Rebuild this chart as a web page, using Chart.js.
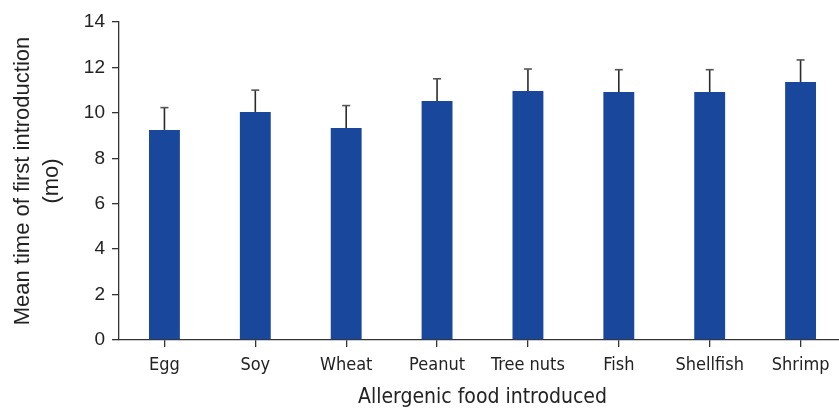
<!DOCTYPE html>
<html>
<head>
<meta charset="utf-8">
<script src="https://cdn.jsdelivr.net/npm/chart.js@4.4.1/dist/chart.umd.min.js"></script>
<style>
  html, body { margin: 0; padding: 0; background: #fff; overflow: hidden; }
  #wrap { width: 839px; height: 410px; position: relative; overflow: hidden; }
  #chart { display: block; }
</style>
</head>
<body>
<div id="wrap"><canvas id="chart" width="846" height="410"></canvas></div>
<script>
// Allergenic foods and the mean age (months) at first introduction, with SD
const categories = ['Egg', 'Soy', 'Wheat', 'Peanut', 'Tree nuts', 'Fish', 'Shellfish', 'Shrimp'];
const meanMonths = [9.25, 10.04, 9.33, 10.52, 10.96, 10.92, 10.92, 11.36];
const sdMonths = [0.98, 0.96, 0.99, 0.98, 0.97, 0.98, 0.98, 0.97];
const yTicks = [0, 2, 4, 6, 8, 10, 12, 14];

const axisColor = '#333333';
const barColor = '#19479b';
const condensed = '"DejaVu Sans Condensed", "Liberation Sans Narrow", sans-serif';
const sans = '"Liberation Sans", Arial, sans-serif';

// Upper error whiskers drawn through the y scale
const errorBars = {
  id: 'errorBars',
  afterDatasetsDraw(chart) {
    const ctx = chart.ctx;
    const y = chart.scales.y;
    const meta = chart.getDatasetMeta(0);
    ctx.save();
    meta.data.forEach((bar, i) => {
      const x = bar.x;
      const yTop = y.getPixelForValue(meanMonths[i]);
      const yErr = y.getPixelForValue(meanMonths[i] + sdMonths[i]);
      ctx.strokeStyle = '#2a2a2a';
      ctx.lineWidth = 1.6;
      ctx.beginPath();
      ctx.moveTo(x, yTop);
      ctx.lineTo(x, yErr);
      ctx.stroke();
      ctx.strokeStyle = '#555555';
      ctx.beginPath();
      ctx.moveTo(x - 4, yErr);
      ctx.lineTo(x + 4, yErr);
      ctx.stroke();
    });
    ctx.restore();
  }
};

new Chart(document.getElementById('chart'), {
  type: 'bar',
  data: {
    labels: categories,
    datasets: [{
      data: meanMonths,
      backgroundColor: barColor,
      borderWidth: 0,
      barPercentage: 0.34,
      categoryPercentage: 1
    }]
  },
  options: {
    responsive: false,
    animation: false,
    layout: { padding: { top: 22, right: 0, left: 0, bottom: 0 } },
    plugins: { legend: { display: false }, tooltip: { enabled: false } },
    scales: {
      x: {
        grid: { offset: false, drawOnChartArea: false, drawTicks: true, tickLength: 7, color: axisColor, lineWidth: 1.3 },
        border: { display: true, color: axisColor, width: 1.3 },
        ticks: {
          color: '#222',
          padding: 8,
          maxRotation: 0,
          font: { family: condensed, size: 18 }
        },
        title: {
          display: true,
          text: 'Allergenic food introduced',
          color: '#222',
          padding: { top: 4, bottom: 0 },
          font: { family: condensed, size: 21 }
        },
        afterFit(scale) { scale.height = 70; }
      },
      y: {
        min: 0,
        max: 14,
        afterBuildTicks(scale) { scale.ticks = yTicks.map(v => ({ value: v })); },
        grid: { drawOnChartArea: false, drawTicks: true, tickLength: 7, color: axisColor, lineWidth: 1.3 },
        border: { display: true, color: axisColor, width: 1.3 },
        ticks: {
          color: '#222',
          padding: 7,
          font: { family: sans, size: 19 }
        },
        title: {
          display: true,
          text: ['Mean time of first introduction', '(mo)'],
          color: '#222',
          padding: { top: 9, bottom: 4 },
          font: { family: sans, size: 22, lineHeight: 1.3 }
        },
        afterFit(scale) { scale.width = 119; }
      }
    }
  },
  plugins: [errorBars]
});
</script>
</body>
</html>
